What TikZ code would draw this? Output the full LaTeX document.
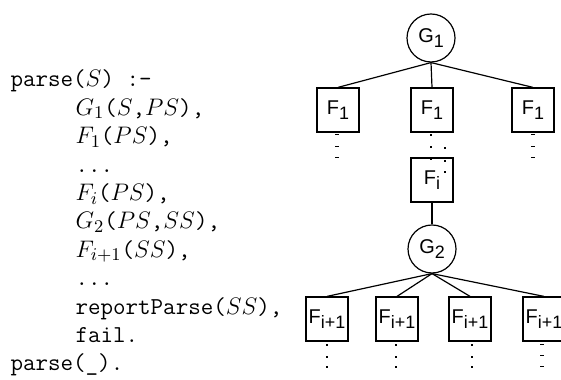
\documentclass[tikz,border=0pt]{standalone}
\usepackage{fontspec}
\newfontfamily\figfont{Liberation Sans}

\newcommand{\lowidx}[1]{\raisebox{-.5ex}{\fontsize{9}{9}\selectfont #1}}
\newcommand{\ttdots}{...}

\begin{document}
\begin{tikzpicture}[x=0.5bp,y=-0.5bp,line width=0.6pt,
  goal/.style={draw,circle,minimum size=24bp,inner sep=0pt,font=\figfont\fontsize{10}{10}\selectfont},
  call/.style={draw,rectangle,minimum width=21bp,minimum height=22bp,inner sep=0pt,font=\figfont\fontsize{10}{10}\selectfont},
  code/.style={inner sep=0pt,font=\ttfamily\fontsize{12.2}{13.8}\selectfont}]

\useasboundingbox (0,0) rectangle (561,380);
\clip (0,0) rectangle (561,380);

% the clause
\node[code,anchor=base west] (head) at (10,87) {parse($S$) :-};
\foreach \txt [count=\k] in {{$G_1$($S$,$PS$),},{$F_1$($PS$),},{\ttdots},{$F_i$($PS$),},
  {$G_2$($PS$,$SS$),},{$F_{i+1}$($SS$),},{\ttdots},{reportParse($SS$),},{fail.}}
  \node[code,anchor=base west] (line\k) at (75,87+\k*28.4) {\txt};
\node[code,anchor=base west] (last) at (10,87+10*28.4) {parse(\_).};

% the search tree
\node[goal] (g1) at (431,38) {G\lowidx{1}};
\node[call] (f1a) at (338,110) {F\lowidx{1}};
\node[call] (f1b) at (432,110) {F\lowidx{1}};
\node[call] (f1c) at (533,110) {F\lowidx{1}};
\node[call] (fi) at (432,180) {F\lowidx{i}};
\node[goal] (g2) at (432,249) {G\lowidx{2}};
\node[call] (fa) at (327,319) {F\lowidx{i+1}};
\node[call] (fb) at (397,319) {F\lowidx{i+1}};
\node[call] (fc) at (470,319) {F\lowidx{i+1}};
\node[call] (fd) at (544,319) {F\lowidx{i+1}};

\draw (g1.south) -- (f1a.north);
\draw (g1.south) -- (f1b.north);
\draw (g1.south) -- (f1c.north);
\draw (fi) -- (g2);
\draw (g2.south) -- (fa.north);
\draw (g2.south) -- (fb.north);
\draw (g2.south) -- (fc.north);
\draw (g2.south) -- (fd.north);

% dots
\foreach \x/\y in {337/135,337/147,337/158,533/135,533/147,533/158,542/345,542/356,542/367}
  \fill (\x-1.6,\y-0.5) rectangle (\x+1.6,\y+0.5);
\foreach \x/\y in {431/135,431/147,431/159,445/148,445/161,445/172,
  327/345,327/357,327/367,396/345,396/357,396/367,472/345,472/357,472/367}
  \fill (\x-0.7,\y-0.7) rectangle (\x+0.7,\y+0.7);

\end{tikzpicture}
\end{document}
